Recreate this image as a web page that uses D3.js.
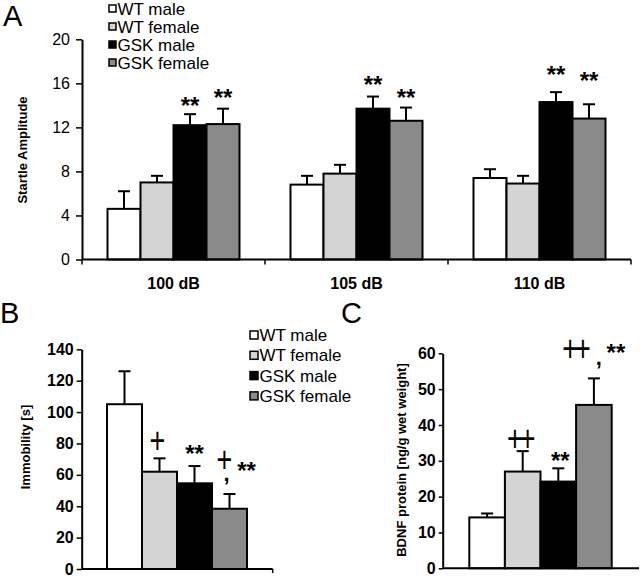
<!DOCTYPE html>
<html><head><meta charset="utf-8">
<script src="https://cdn.jsdelivr.net/npm/d3@7"></script>
<style>body{margin:0;background:#fff}svg{display:block}text{font-family:"Liberation Sans",Arial,sans-serif}</style>
</head><body>
<script>
// ---------- data ----------
const series = ["WT male", "WT female", "GSK male", "GSK female"];
const seriesColors = ["#ffffff", "#d4d4d4", "#000000", "#8a8a8a"];

// Panel A: startle amplitude
const groupsA = ["100 dB", "105 dB", "110 dB"];
const meanA = [[4.6, 7.0, 12.2, 12.3], [6.8, 7.8, 13.7, 12.6], [7.4, 6.9, 14.3, 12.8]];
const errA  = [[6.2, 7.6, 13.2, 13.7], [7.6, 8.6, 14.8, 13.8], [8.2, 7.6, 15.2, 14.1]];
const starLevelA = [[null, null, 14.5, 15.2], [null, null, 16.4, 15.2], [null, null, 17.3, 16.8]];
const ticksA = [0, 4, 8, 12, 16, 20];

// Panel B: immobility
const meanB = [105, 62, 54.6, 38.4];
const errB  = [126, 70.5, 65.6, 47.8];
const sigB  = ["", "+", "**", "+,**"];
const sigLevelB = [null, 83, 77, 70.5];
const ticksB = [0, 20, 40, 60, 80, 100, 120, 140];

// Panel C: BDNF protein
const meanC = [14.2, 27.0, 24.2, 45.6];
const errC  = [15.3, 32.7, 27.9, 53.0];
const sigC  = ["", "++", "**", "++,**"];
const sigLevelC = [null, 36.7, 31.6, 61.8];
const ticksC = [0, 10, 20, 30, 40, 50, 60];

// ---------- drawing ----------
const W = 640, H = 576;
const svg = d3.select("body").append("svg").attr("width", W).attr("height", H);
const col = d3.scaleOrdinal().domain(series).range(seriesColors);

function yAxis(g, y, ticks, bold, tickLen, pad) {
  const ax = d3.axisLeft(y).tickValues(ticks).tickSize(tickLen).tickPadding(pad).tickSizeOuter(0);
  g.call(ax);
  g.select(".domain").attr("stroke", "#000").attr("stroke-width", 2);
  g.selectAll(".tick line").attr("stroke", "#000").attr("stroke-width", 1.5);
  g.selectAll(".tick text").attr("font-size", 16).attr("fill", "#000")
    .attr("font-weight", bold ? "bold" : "normal")
    .attr("font-family", '"Liberation Sans", Arial, sans-serif');
}

function drawErr(g, cx, yTop, yErr) {
  g.append("line").attr("x1", cx).attr("x2", cx).attr("y1", yTop).attr("y2", yErr)
    .attr("stroke", "#000").attr("stroke-width", 2);
  g.append("line").attr("x1", cx - 6).attr("x2", cx + 6).attr("y1", yErr).attr("y2", yErr)
    .attr("stroke", "#000").attr("stroke-width", 2);
}

function stars(g, x, yc) {
  g.append("text").attr("x", x).attr("y", yc + 14).attr("text-anchor", "middle")
    .attr("font-size", 24).attr("font-weight", "bold").attr("fill", "#000").text("**");
}
function cross(g, x, yc, txt) {
  g.append("text").attr("transform", `translate(${x},${yc}) scale(1,1.35)`)
    .attr("text-anchor", "middle").attr("dy", "0.38em").attr("fill", "#000")
    .attr("font-family", '"DejaVu Sans", sans-serif').attr("font-weight", "normal")
    .attr("font-size", 27).attr("letter-spacing", txt.length > 1 ? -3 : 0).text(txt);
}
function comma(g, x, yc) {
  g.append("text").attr("x", x).attr("y", yc + 4).attr("text-anchor", "middle")
    .attr("font-size", 22).attr("font-weight", "bold").attr("fill", "#000").text(",");
}

function legend(g, x, y0, dy, sq, fs) {
  series.forEach((s, i) => {
    const yc = y0 + i * dy;
    g.append("rect").attr("x", x).attr("y", yc - sq / 2).attr("width", sq).attr("height", sq)
      .attr("fill", col(s)).attr("stroke", "#000").attr("stroke-width", 1.5);
    g.append("text").attr("x", x + sq + 1.5).attr("y", yc).attr("dy", "0.36em")
      .attr("font-size", fs).text(s);
  });
}

// ===== Panel A =====
const A = svg.append("g");
const yA = d3.scaleLinear().domain([0, 20]).range([259.5, 39.3]);
const xA = d3.scaleBand().domain(groupsA).range([82, 631]).padding(0);
const xA1 = d3.scaleBand().domain(series).range([25.5, 157.5]).padding(0);

groupsA.forEach((gname, gi) => {
  series.forEach((s, si) => {
    const x = xA(gname) + xA1(s), w = xA1.bandwidth();
    drawErr(A, x + w / 2, yA(meanA[gi][si]), yA(errA[gi][si]));
    A.append("rect").attr("x", x).attr("y", yA(meanA[gi][si]))
      .attr("width", w).attr("height", yA(0) - yA(meanA[gi][si]))
      .attr("fill", col(s)).attr("stroke", "#000").attr("stroke-width", 2);
    if (starLevelA[gi][si] != null) stars(A, x + w / 2, yA(starLevelA[gi][si]));
  });
});
yAxis(A.append("g").attr("transform", "translate(82,0)"), yA, ticksA, false, 6, 6);
A.append("line").attr("x1", 82).attr("x2", 631).attr("y1", yA(0)).attr("y2", yA(0))
  .attr("stroke", "#000").attr("stroke-width", 2);
groupsA.concat(["end"]).forEach((gname, i) => {
  const xx = i < groupsA.length ? xA(gname) : 631;
  A.append("line").attr("x1", xx).attr("x2", xx).attr("y1", yA(0)).attr("y2", yA(0) + 5)
    .attr("stroke", "#000").attr("stroke-width", 1.5);
});
groupsA.forEach(gname => {
  A.append("text").attr("x", xA(gname) + xA.bandwidth() / 2).attr("y", 289)
    .attr("text-anchor", "middle").attr("font-size", 16).attr("font-weight", "bold").text(gname);
});
A.append("text").attr("transform", "translate(27,150) rotate(-90)").attr("text-anchor", "middle")
  .attr("font-size", 13).attr("font-weight", "bold").text("Startle Amplitude");
A.append("text").attr("x", 3).attr("y", 26).attr("font-size", 29).text("A");
legend(A, 109, 8.5, 18, 7, 17);

// ===== Panel B =====
const B = svg.append("g");
const yB = d3.scaleLinear().domain([0, 140]).range([569, 349.3]);
const xB = d3.scaleBand().domain(series).range([107, 247]).padding(0);
series.forEach((s, i) => {
  const x = xB(s), w = xB.bandwidth();
  drawErr(B, x + w / 2, yB(meanB[i]), yB(errB[i]));
  B.append("rect").attr("x", x).attr("y", yB(meanB[i])).attr("width", w)
    .attr("height", yB(0) - yB(meanB[i])).attr("fill", col(s)).attr("stroke", "#000").attr("stroke-width", 2);
});
{
  const c = i => xB(series[i]) + xB.bandwidth() / 2;
  cross(B, c(1) - 2, yB(sigLevelB[1]), "+");
  stars(B, c(2), yB(sigLevelB[2]));
  cross(B, c(3) - 5, yB(sigLevelB[3]), "+");
  comma(B, c(3) - 3, yB(sigLevelB[3]) + 19);
  stars(B, c(3) + 17, yB(sigLevelB[3]) + 7);
}
yAxis(B.append("g").attr("transform", "translate(81.7,0)"), yB, ticksB, true, 5, 3);
B.append("line").attr("x1", 81.7).attr("x2", 272.7).attr("y1", yB(0)).attr("y2", yB(0))
  .attr("stroke", "#000").attr("stroke-width", 2);
B.append("line").attr("x1", 272.7).attr("x2", 272.7).attr("y1", yB(0)).attr("y2", yB(0) + 4)
  .attr("stroke", "#000").attr("stroke-width", 1.5);
B.append("text").attr("transform", "translate(30,447) rotate(-90)").attr("text-anchor", "middle")
  .attr("font-size", 13).attr("font-weight", "bold").text("Immobility [s]");
B.append("text").attr("x", 0).attr("y", 323).attr("font-size", 29).text("B");
legend(B, 250, 335, 20.3, 8, 17);

// ===== Panel C =====
const C = svg.append("g");
const yC = d3.scaleLinear().domain([0, 60]).range([568.3, 353.3]);
const xC = d3.scaleBand().domain(series).range([469.3, 611.7]).padding(0);
series.forEach((s, i) => {
  const x = xC(s), w = xC.bandwidth();
  drawErr(C, x + w / 2, yC(meanC[i]), yC(errC[i]));
  C.append("rect").attr("x", x).attr("y", yC(meanC[i])).attr("width", w)
    .attr("height", yC(0) - yC(meanC[i])).attr("fill", col(s)).attr("stroke", "#000").attr("stroke-width", 2);
});
{
  const c = i => xC(series[i]) + xC.bandwidth() / 2;
  cross(C, c(1) - 3, yC(sigLevelC[1]), "++");
  stars(C, c(2) + 2, yC(sigLevelC[2]));
  cross(C, c(3) - 19, yC(sigLevelC[3]), "++");
  comma(C, c(3) + 5, yC(sigLevelC[3]) + 14);
  stars(C, c(3) + 22, yC(sigLevelC[3]));
}
yAxis(C.append("g").attr("transform", "translate(442.7,0)"), yC, ticksC, true, 4, 3);
C.append("line").attr("x1", 442.7).attr("x2", 639).attr("y1", yC(0)).attr("y2", yC(0))
  .attr("stroke", "#000").attr("stroke-width", 2);
C.append("text").attr("transform", "translate(406,460) rotate(-90)").attr("text-anchor", "middle")
  .attr("font-size", 13).attr("font-weight", "bold").text("BDNF protein [ng/g wet weight]");
C.append("text").attr("x", 341).attr("y", 323).attr("font-size", 29).text("C");
</script>
</body></html>
